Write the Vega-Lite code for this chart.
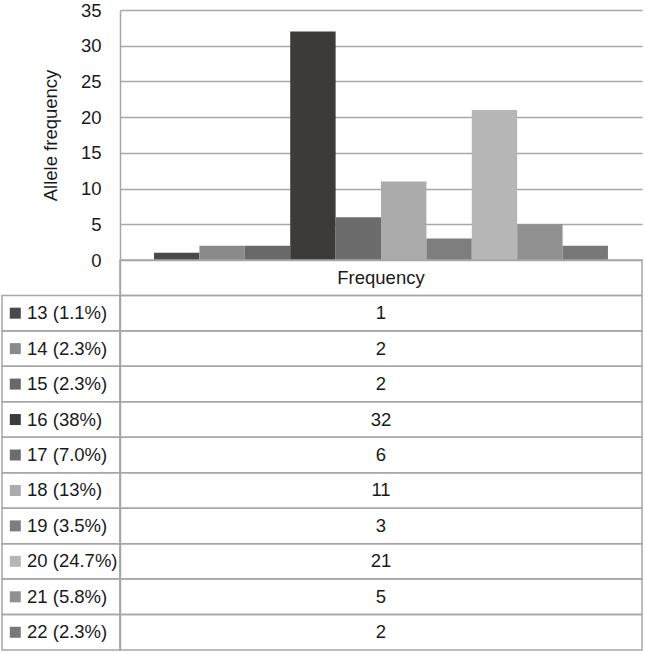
{
  "$schema": "https://vega.github.io/schema/vega-lite/v6.json",
  "width": 522,
  "height": 640,
  "autosize": "none",
  "padding": {"left": 120, "top": 10, "right": 3, "bottom": 4},
  "background": "white",
  "config": {"view": {"stroke": null}, "font": "Liberation Sans"},
  "datasets": {
    "alleles": [
      {"allele": "13", "label": "13 (1.1%)", "freq": 1},
      {"allele": "14", "label": "14 (2.3%)", "freq": 2},
      {"allele": "15", "label": "15 (2.3%)", "freq": 2},
      {"allele": "16", "label": "16 (38%)", "freq": 32},
      {"allele": "17", "label": "17 (7.0%)", "freq": 6},
      {"allele": "18", "label": "18 (13%)", "freq": 11},
      {"allele": "19", "label": "19 (3.5%)", "freq": 3},
      {"allele": "20", "label": "20 (24.7%)", "freq": 21},
      {"allele": "21", "label": "21 (5.8%)", "freq": 5},
      {"allele": "22", "label": "22 (2.3%)", "freq": 2}
    ],
    "header": [{"row": "Frequency"}]
  },
  "data": {"name": "alleles"},
  "layer": [
    {
      "mark": {"type": "bar"},
      "encoding": {
        "x": {"field": "allele", "type": "nominal", "scale": {"paddingInner": 0, "paddingOuter": 0.75}, "axis": null},
        "y": {
          "field": "freq", "type": "quantitative",
          "scale": {"domain": [-54.6, 35], "nice": false, "zero": false},
          "axis": {
            "values": [0, 5, 10, 15, 20, 25, 30, 35],
            "grid": true, "gridColor": "#a6a6a6", "gridWidth": 1.5,
            "domain": true, "domainColor": "#a6a6a6", "domainWidth": 1.5,
            "ticks": false, "labelPadding": 19, "labelFontSize": 18.5, "labelColor": "#1a1a1a",
            "labelFont": "Liberation Sans",
            "title": "Allele frequency", "titleFontSize": 18.5, "titleFontWeight": "normal",
            "titleColor": "#1a1a1a", "titleFont": "Liberation Sans", "titlePadding": 20,
            "titleY": 125, "titleAlign": "center"
          }
        },
        "y2": {"datum": 0},
        "color": {
          "field": "allele", "type": "nominal",
          "scale": {
            "domain": ["13", "14", "15", "16", "17", "18", "19", "20", "21", "22"],
            "range": ["#4a4a4a", "#8a8a8a", "#686868", "#3d3a3a", "#6c6c6c", "#ababab", "#7e7e7e", "#b6b6b6", "#909090", "#787878"]
          },
          "legend": null
        }
      }
    },
    {
      "layer": [
        {
          "data": {"name": "header"},
          "mark": {"type": "rect", "fill": null, "stroke": "#a6a6a6", "strokeWidth": 1.5},
          "encoding": {
            "x": {"datum": 118, "type": "quantitative", "scale": {"domain": [0, 640], "range": [-118, 522], "padding": 0, "nice": false, "zero": false}, "axis": null},
            "x2": {"datum": 640},
            "y": {
              "field": "row", "type": "nominal",
              "scale": {
                "domain": ["Frequency", "13 (1.1%)", "14 (2.3%)", "15 (2.3%)", "16 (38%)", "17 (7.0%)", "18 (13%)", "19 (3.5%)", "20 (24.7%)", "21 (5.8%)", "22 (2.3%)"],
                "range": [250, 640], "paddingInner": 0, "paddingOuter": 0
              },
              "axis": null
            }
          }
        },
        {
          "mark": {"type": "rect", "fill": null, "stroke": "#a6a6a6", "strokeWidth": 1.5},
          "encoding": {
            "x": {"datum": 0, "type": "quantitative"},
            "x2": {"datum": 118},
            "y": {"field": "label", "type": "nominal"}
          }
        },
        {
          "mark": {"type": "rect", "fill": null, "stroke": "#a6a6a6", "strokeWidth": 1.5},
          "encoding": {
            "x": {"datum": 118, "type": "quantitative"},
            "x2": {"datum": 640},
            "y": {"field": "label", "type": "nominal"}
          }
        },
        {
          "data": {"name": "header"},
          "mark": {"type": "text", "fontSize": 18.5, "color": "#1a1a1a", "baseline": "middle"},
          "encoding": {
            "y": {"field": "row", "type": "nominal"},
            "text": {"field": "row"}
          }
        },
        {
          "mark": {"type": "text", "fontSize": 18.5, "color": "#1a1a1a", "baseline": "middle"},
          "encoding": {
            "y": {"field": "label", "type": "nominal"},
            "text": {"field": "freq"}
          }
        },
        {
          "mark": {"type": "text", "fontSize": 18.5, "color": "#1a1a1a", "baseline": "middle", "align": "left"},
          "encoding": {
            "x": {"datum": 25, "type": "quantitative"},
            "y": {"field": "label", "type": "nominal"},
            "text": {"field": "label"}
          }
        },
        {
          "mark": {"type": "square", "filled": true, "size": 121, "opacity": 1},
          "encoding": {
            "x": {"datum": 13.3, "type": "quantitative"},
            "y": {"field": "label", "type": "nominal"},
            "color": {"field": "allele", "type": "nominal", "legend": null}
          }
        }
      ]
    }
  ],
  "resolve": {"scale": {"x": "independent", "y": "independent"}}
}
